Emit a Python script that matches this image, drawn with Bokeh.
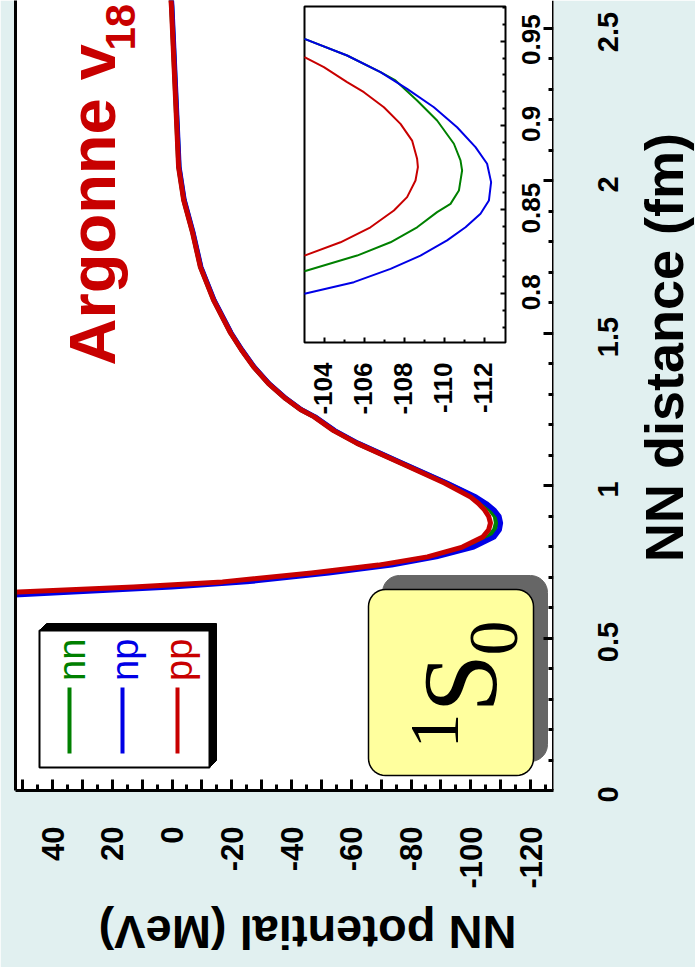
import math
import numpy as np
from bokeh.plotting import figure
from bokeh.models import Range1d, LinearAxis, FixedTicker
from bokeh.core.properties import value
from bokeh.embed import file_html
from bokeh.resources import INLINE

# ---------------- data ----------------
# main panel: NN distance r (fm) and potential V (MeV)
r_main = [0.638, 0.651, 0.667, 0.684, 0.713, 0.739, 0.766, 0.798, 0.831, 0.855,
          0.877, 0.899, 0.920, 0.941, 0.962, 1.008, 1.074, 1.139, 1.180, 1.225,
          1.249, 1.285, 1.334, 1.389, 1.445, 1.500, 1.608, 1.716, 1.828, 1.936,
          2.044, 2.264, 2.570, 2.600]
v_pp = [70, 51.4, 12.9, -16.9, -46.7, -69.1, -85.5, -97.2, -104.0, -106.0,
        -106.6, -106.0, -104.6, -102.6, -100.0, -91.2, -76.5, -61.8, -54.1, -47.6,
        -43.0, -38.0, -32.3, -27.3, -23.2, -19.6, -13.9, -9.5, -6.9, -3.9,
        -2.2, -1.2, 0.2, 0.4]
v_nn = [65, 43, 7, -20.5, -49, -71, -86.8, -99.0, -106.0, -108.0,
        -108.6, -108.2, -106.6, -104.3, -101.3, -91.8, -76.8, -62.0, -54.3, -47.8,
        -43.1, -38.1, -32.4, -27.4, -23.3, -19.7, -14.0, -9.6, -7.0, -4.0,
        -2.3, -1.3, 0.1, 0.3]
v_np = [58, 33, 0, -25, -52.5, -73.5, -88.5, -101.0, -107.8, -109.6,
        -110.0, -109.5, -107.8, -105.2, -101.8, -92.0, -77.0, -62.2, -54.5, -47.9,
        -43.2, -38.2, -32.5, -27.5, -23.4, -19.8, -14.1, -9.7, -7.1, -4.1,
        -2.4, -1.4, 0.0, 0.2]

# inset (zoom on the minimum)
ins_r_np = [0.9514, 0.9415, 0.9316, 0.9217, 0.9108, 0.8989, 0.8871, 0.8772, 0.8663,
            0.8554, 0.8475, 0.8395, 0.8317, 0.8227, 0.8148, 0.8069, 0.8000]
ins_v_np = [-103.0, -105.13, -106.8, -108.13, -109.47, -110.63, -111.55, -112.13, -112.33,
            -112.22, -111.8, -111.05, -110.13, -108.8, -107.3, -105.47, -103.0]
ins_r_nn = [0.9514, 0.9415, 0.9316, 0.9267, 0.9148, 0.9029, 0.8891, 0.8792, 0.8732,
            0.8613, 0.8534, 0.8485, 0.8395, 0.8306, 0.8227, 0.8134]
ins_v_nn = [-103.0, -105.13, -106.8, -107.55, -108.63, -109.63, -110.47, -110.8, -110.88,
            -110.72, -110.3, -109.63, -108.63, -107.3, -105.63, -103.0]
ins_r_pp = [0.9405, 0.9346, 0.9257, 0.9197, 0.9108, 0.9009, 0.8910, 0.8802, 0.8752,
            0.8673, 0.8574, 0.8495, 0.8395, 0.8306, 0.8227]
ins_v_pp = [-103.0, -103.97, -105.13, -105.97, -106.97, -107.8, -108.38, -108.63, -108.67,
            -108.55, -108.13, -107.47, -106.3, -104.8, -103.0]

# ticks and labels
pot_labelled = [40, 20, 0, -20, -40, -60, -80, -100, -120]
pot_tens = [50, 30, 10, -10, -30, -50, -70, -90, -110]
pot_fives = [45, 35, 25, 15, 5, -5, -15, -25, -35, -45, -55, -65, -75, -85, -95, -105, -115, -125]
pot_labels = {40: "40", 20: "20", 0: "0", -20: "-20", -40: "-40", -60: "-60", -80: "-80",
              -100: "-100", -120: "-120"}
dist_major = [0, 0.5, 1, 1.5, 2, 2.5]
dist_minor = [0.1, 0.2, 0.3, 0.4, 0.6, 0.7, 0.8, 0.9, 1.1, 1.2, 1.3, 1.4, 1.6, 1.7, 1.8, 1.9,
              2.1, 2.2, 2.3, 2.4]
dist_labels = ["0", "0.5", "1", "1.5", "2", "2.5"]
ins_v_major = [-104, -106, -108, -110, -112]
ins_v_minor = [-105, -107, -109, -111]
ins_v_labels = ["-104", "-106", "-108", "-110", "-112"]
ins_r_major = [0.80, 0.85, 0.90, 0.95]
ins_r_minor = [0.78, 0.79, 0.81, 0.82, 0.83, 0.84, 0.86, 0.87, 0.88, 0.89,
               0.91, 0.92, 0.93, 0.94, 0.96, 0.97]
ins_r_labels = ["0.8", "0.85", "0.9", "0.95"]
series_names = ["nn", "np", "pp"]
series_colors = ["#008000", "#0000e6", "#c80000"]

# ---------------- layout helpers (picture pixels -> data) ----------------
W, H = 695, 967
BG = "#e1f0f0"
FONT = value("Liberation Sans")
SERIF = value("Liberation Serif")
KS = 0.3465   # half (ascent - descent), sans
KR = 0.3375   # same, serif


def VX(xp):  # main potential axis
    return 40 - (xp - 52) / 2.9875


def RY(yp):  # main distance axis
    return (790 - yp) / 305.0


def IVX(xp):  # inset potential axis
    return -104 - (xp - 324) / 20.0


def IRY(yp):  # inset distance axis
    return 0.8 + (293.3 - yp) / 1684.0


def rrect(x0, y0, x1, y1, rad, n=10):
    pts = []
    corners = [(x1 - rad, y0 + rad, -90, 0), (x1 - rad, y1 - rad, 0, 90),
               (x0 + rad, y1 - rad, 90, 180), (x0 + rad, y0 + rad, 180, 270)]
    for cx, cy, a0, a1 in corners:
        for a in np.linspace(a0, a1, n):
            t = math.radians(a)
            pts.append((cx + rad * math.cos(t), cy + rad * math.sin(t)))
    return [VX(a) for a, _ in pts], [RY(b) for _, b in pts]


def tick_axis(ticks, length, width, x_name="default", y_name="default", loc=None):
    ax = LinearAxis(x_range_name=x_name, y_range_name=y_name,
                    ticker=FixedTicker(ticks=[], minor_ticks=ticks),
                    major_tick_in=0, major_tick_out=0, minor_tick_in=length, minor_tick_out=0,
                    minor_tick_line_width=width, minor_tick_line_color="black",
                    axis_line_color=None, major_label_standoff=0)
    if loc is not None:
        ax.fixed_location = loc
    return ax


p = figure(width=W, height=H, x_range=Range1d(VX(15), VX(553)), y_range=Range1d(RY(790), RY(0)),
           output_backend="svg", toolbar_location=None,
           min_border_left=15, min_border_right=142, min_border_top=0, min_border_bottom=177)
p.extra_x_ranges = {"inset_x": Range1d(IVX(15), IVX(553))}
p.extra_y_ranges = {"inset_y": Range1d(IRY(790), IRY(0))}
p.background_fill_color = "white"
p.border_fill_color = BG
p.outline_line_color = None
p.xgrid.visible = False
p.ygrid.visible = False

# bottom axis (potential): labelled ticks every 20, tall unlabelled ticks between
xa = p.xaxis[0]
xa.ticker = FixedTicker(ticks=pot_labelled, minor_ticks=pot_tens)
xa.major_label_overrides = pot_labels
xa.major_label_orientation = math.pi / 2
xa.major_label_text_font = "Liberation Sans"
xa.major_label_text_font_style = "bold"
xa.major_label_text_font_size = "31px"
xa.major_label_text_color = "black"
xa.major_label_standoff = 36
xa.major_tick_in = 11
xa.major_tick_out = 0
xa.minor_tick_in = 11
xa.minor_tick_out = 0
xa.major_tick_line_width = 3
xa.minor_tick_line_width = 3
xa.axis_line_width = 3
p.add_layout(tick_axis(pot_fives, 6, 3, loc=RY(790)), "below")

# left border (plain line)
ya = p.yaxis[0]
ya.ticker = FixedTicker(ticks=[])
ya.major_tick_in = 0
ya.major_tick_out = 0
ya.minor_tick_in = 0
ya.minor_tick_out = 0
ya.major_label_standoff = 0
ya.axis_line_width = 3

# right axis (distance)
ra = tick_axis(dist_major, 10, 3, loc=VX(553))
ra.axis_line_color = "black"
ra.axis_line_width = 3
p.add_layout(ra, "right")
p.add_layout(tick_axis(dist_minor, 5, 3, loc=VX(553)), "right")

# ---------------- main curves ----------------
for vals, col in zip([v_nn, v_np, v_pp], series_colors):
    p.line(x=vals, y=r_main, line_color=col, line_width=5, line_join="round")

# ---------------- legend box ----------------
p.patch(x=[VX(39), VX(46), VX(216), VX(216), VX(209)],
        y=[RY(630), RY(623), RY(623), RY(760), RY(767)], fill_color="black", line_color="black")
p.quad(left=VX(39), right=VX(209), bottom=RY(767), top=RY(630), fill_color="white",
       line_color="black", line_width=2)
leg_x = [69, 122, 177]
leg_base = [85, 138, 192]
for name, col, lx, bx in zip(series_names, series_colors, leg_x, leg_base):
    p.segment(x0=VX(lx), y0=RY(753), x1=VX(lx), y1=RY(687), line_color=col, line_width=4)
    p.text(x=[VX(bx - KS * 38)], y=[RY(680.5)], text=[name], angle=math.pi / 2, text_font=FONT,
           text_font_size="38px", text_color=col, text_align="left", text_baseline="middle")

# ---------------- 1S0 box ----------------
sx, sy = rrect(382, 575, 547, 761, 17)
p.patch(x=sx, y=sy, fill_color="#666666", line_color="#666666")
bx_, by_ = rrect(368, 589, 533, 775, 17)
p.patch(x=bx_, y=by_, fill_color="#ffff9e", line_color="black", line_width=1.5)
for txt, base, start, fs in [("1", 458, 748, 70), ("S", 495, 712, 105), ("0", 517, 655, 70)]:
    p.text(x=[VX(base - KR * fs)], y=[RY(start)], text=[txt], angle=math.pi / 2, text_font=SERIF,
           text_font_size=f"{fs}px", text_color="black", text_align="left",
           text_baseline="middle", level="overlay")

# ---------------- Argonne v18 ----------------
p.text(x=[VX(115 - KS * 65)], y=[RY(365)], text=["Argonne v"], angle=math.pi / 2, text_font=FONT,
       text_font_style="bold", text_font_size="65px", text_color="#c80000",
       text_align="left", text_baseline="middle", level="overlay")
p.text(x=[VX(135 - KS * 42)], y=[RY(50)], text=["18"], angle=math.pi / 2, text_font=FONT,
       text_font_style="bold", text_font_size="42px", text_color="#c80000",
       text_align="left", text_baseline="middle", level="overlay")

# ---------------- inset ----------------
p.quad(left=-103.0, right=IVX(505), bottom=IRY(342), top=IRY(6), fill_color="white",
       line_color="black", line_width=2, x_range_name="inset_x", y_range_name="inset_y")
for rr, vv, col in zip([ins_r_nn, ins_r_np, ins_r_pp], [ins_v_nn, ins_v_np, ins_v_pp], series_colors):
    p.line(x=vv, y=rr, line_color=col, line_width=2, line_join="round",
           x_range_name="inset_x", y_range_name="inset_y")

p.add_layout(tick_axis(ins_v_major, 5, 2, "inset_x", "inset_y", IRY(342)), "below")
p.add_layout(tick_axis(ins_v_minor, 3, 2, "inset_x", "inset_y", IRY(342)), "below")
p.add_layout(tick_axis(ins_r_major, 5, 2, "inset_x", "inset_y", IVX(505)), "right")
p.add_layout(tick_axis(ins_r_minor, 3, 2, "inset_x", "inset_y", IVX(505)), "right")

# inset tick labels
p.text(x=[t - (7.3 - KS * 26) / 20.0 for t in ins_v_major], y=[IRY(362)] * len(ins_v_major),
       text=ins_v_labels, angle=math.pi / 2, text_font=FONT, text_font_style="bold",
       text_font_size="26px", text_color="black", text_align="right", text_baseline="middle",
       x_range_name="inset_x", y_range_name="inset_y", level="overlay")
p.text(x=[IVX(540 - KS * 26)] * len(ins_r_major), y=[t + 1.5 / 1684.0 for t in ins_r_major],
       text=ins_r_labels, angle=math.pi / 2, text_font=FONT, text_font_style="bold",
       text_font_size="26px", text_color="black", text_align="center", text_baseline="middle",
       x_range_name="inset_x", y_range_name="inset_y", level="overlay")

# ---------------- right axis labels and titles ----------------
p.text(x=[VX(618 - KS * 29)] * len(dist_major), y=[t - 4 / 305.0 for t in dist_major],
       text=dist_labels, angle=math.pi / 2, text_font=FONT, text_font_style="bold",
       text_font_size="29px", text_color="black", text_align="center", text_baseline="middle",
       level="overlay")
p.text(x=[VX(682 - KS * 54)], y=[RY(347)], text=["NN distance (fm)"], angle=math.pi / 2,
       text_font=FONT, text_font_style="bold", text_font_size="54px", text_color="black",
       text_align="center", text_baseline="middle", level="overlay")
p.text(x=[VX(307)], y=[RY(916 + KS * 47)], text=["NN potential (MeV)"], angle=math.pi,
       text_font=FONT, text_font_style="bold", text_font_size="47px", text_color="black",
       text_align="center", text_baseline="middle", level="overlay")

open("out.html", "w").write(file_html(p, INLINE))
